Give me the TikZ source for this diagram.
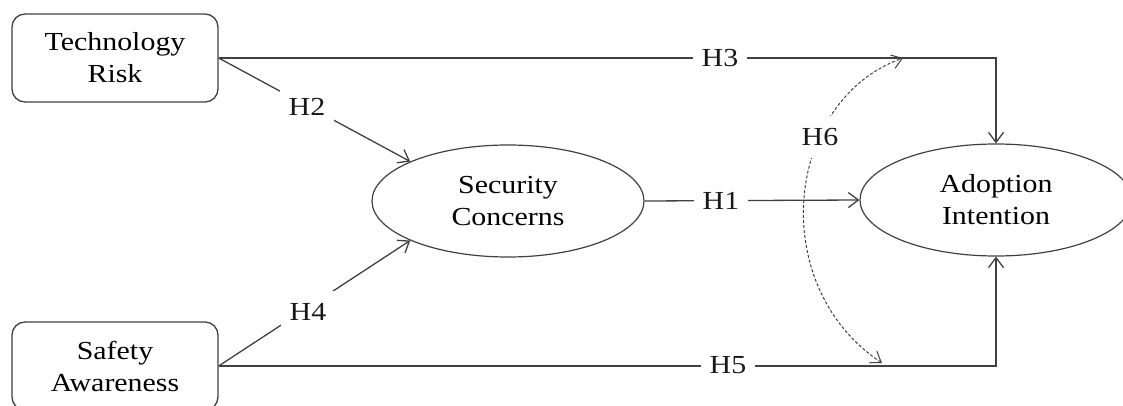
\documentclass[tikz,border=0pt]{standalone}
\usepackage{fontspec}
\setmainfont{Liberation Serif}[FakeStretch=1.15]
\usetikzlibrary{shapes.geometric,arrows.meta}
\begin{document}
\begin{tikzpicture}[x=1pt,y=-1pt,
  font=\fontsize{26}{32}\selectfont,
  box/.style={draw=black!75, line width=1.3pt, rounded corners=13pt,
    minimum width=206pt, minimum height=88pt, align=center, inner sep=0pt},
  oval/.style={draw=black!75, line width=1.2pt, ellipse,
    minimum width=272pt, minimum height=112pt, align=center, inner sep=0pt},
  conn/.style={draw=black!75, line width=1.3pt},
  arr/.style={-{Straight Barb[length=10pt,width=15pt]}},
  twoarr/.style={{Straight Barb[length=10pt,width=14pt]}-{Straight Barb[length=10pt,width=14pt]}},
  dashline/.style={draw=black!75, line width=1pt, dash pattern=on 3pt off 2pt},
  lbl/.style={fill=white, inner xsep=9pt, inner ysep=12pt, text=black!90}
]
\useasboundingbox (0,0) rectangle (1123,406);
\clip (0,0) rectangle (1123,406);

% nodes
\node[box] (TR) at (115,58) {Technology\\Risk};
\node[box] (SA) at (115,366) {Safety\\Awareness};
\node[oval] (SC) at (508,201) {Security\\Concerns};
\node[oval] (AI) at (996,200) {Adoption\\Intention};

% corner coordinates
\coordinate (c3) at (AI.north |- TR.east);
\coordinate (c5) at (AI.south |- SA.east);
\coordinate (h6a) at (882,363);
\coordinate (h6b) at (903,58);

% connectors
\draw[conn,arr] (TR.east) -- (SC.158);
\draw[conn,arr] (SA.east) -- (SC.202);
\draw[conn,arr] (SC.east) -- (AI.west);
\draw[conn,arr] (TR.east) -- (c3) -- (AI.north);
\draw[conn,arr] (SA.east) -- (c5) -- (AI.south);
\draw[dashline,twoarr] (h6a) .. controls (765,285) and (785,100) .. (h6b);

% labels
\node[lbl] (lH2) at (307,107) {H2};
\node[lbl] (lH4) at (308,312) {H4};
\node[lbl] (lH1) at (721,201) {H1};
\node[lbl] (lH3) at (720,58) {H3};
\node[lbl] (lH5) at (728,365) {H5};
\node[lbl] (lH6) at (820,137) {H6};
\end{tikzpicture}
\end{document}
